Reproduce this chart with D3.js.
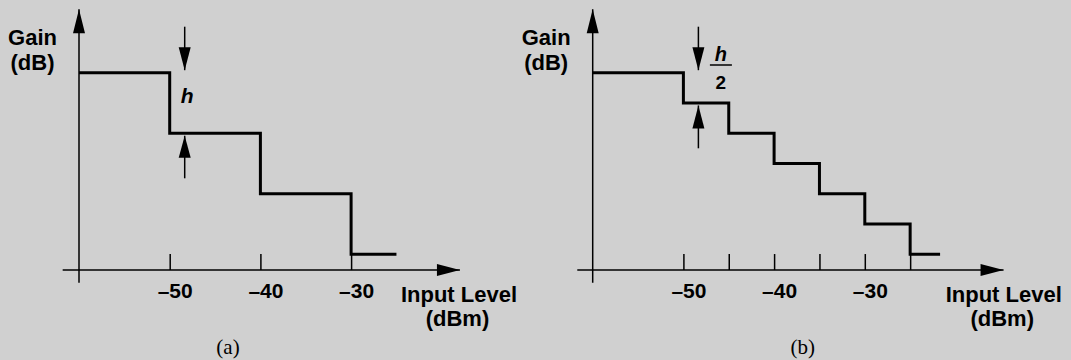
<!DOCTYPE html>
<html>
<head>
<meta charset="utf-8">
<script src="https://cdn.jsdelivr.net/npm/d3@7"></script>
<style>
  html, body { margin: 0; padding: 0; background: #d0d0d0; }
  svg { display: block; }
</style>
</head>
<body>
<svg id="chart" width="1071" height="360"></svg>
<script>
// ---- data ----
// panel (a): step edges (dBm) and gain levels (in units of h)
const edgesA = [-60, -50, -40, -30, -25];
const levelsA = [3, 2, 1, 0];
// panel (b): finer steps of h/2
const edgesB = [-60, -50, -45, -40, -35, -30, -25, -21.7];
const levelsB = [3, 2.5, 2, 1.5, 1, 0.5, 0];
// ticks
const tickValuesA = [-50, -40, -30];
const tickValuesB = [-50, -45, -40, -35, -30, -25];
const tickLabels = [-50, -40, -30];
// axis extents (data units)
const xAxisA = [-61.8, -18.0];
const xAxisB = [-61.7, -14.7];
const yAxisExtent = [-0.47, 4.05];
const xAxisLevel = -0.26;
// texts
const yTitle = ["Gain", "(dB)"];
const xTitle = ["Input Level", "(dBm)"];
const captions = ["(a)", "(b)"];

const svg = d3.select("#chart");
const ink = "#000";
const bold = "'Liberation Sans', Arial, Helvetica, sans-serif";

const y = d3.scaleLinear().domain([0, 3]).range([254.3, 72.7]);

function arrowHead(g, x0, y0, x1, y1, len = 23, w = 12) {
  const dx = x1 - x0, dy = y1 - y0, L = Math.hypot(dx, dy);
  const ux = dx / L, uy = dy / L;
  const bx = x1 - ux * len, by = y1 - uy * len;
  const px = -uy * w / 2, py = ux * w / 2;
  g.append("path")
    .attr("d", `M${x1},${y1}L${bx + px},${by + py}L${bx - px},${by - py}Z`)
    .attr("fill", ink);
}
function arrow(g, x0, y0, x1, y1, len, w) {
  g.append("line").attr("x1", x0).attr("y1", y0).attr("x2", x1).attr("y2", y1)
    .attr("stroke", ink).attr("stroke-width", 1.5);
  arrowHead(g, x0, y0, x1, y1, len, w);
}

function panel(offsetX, edges, levels, tickVals, axisExt, caption, captionX, titleShift) {
  const g = svg.append("g").attr("transform", `translate(${offsetX},0)`);
  const x = d3.scaleLinear().domain([-60, -50]).range([0, 90.7]);

  // ticks + labels via d3 axis
  const axis = d3.axisBottom(x)
    .tickValues(tickVals)
    .tickSize(-16)
    .tickPadding(13)
    .tickFormat(d => tickLabels.includes(d) ? "\u2013" + Math.abs(d) : "");
  const ag = g.append("g").attr("transform", `translate(0,${y(xAxisLevel)})`).call(axis);
  ag.select(".domain").remove();
  ag.selectAll(".tick line").attr("stroke", ink).attr("stroke-width", 1.5);
  ag.selectAll(".tick text").attr("fill", ink)
    .attr("font-family", bold).attr("font-weight", "bold").attr("font-size", 21)
    .attr("dx", 5);

  // axes with arrows
  arrow(g, x(axisExt[0]), y(xAxisLevel), x(axisExt[1]), y(xAxisLevel), 23, 12);
  arrow(g, x(-60), y(yAxisExtent[0]), x(-60), y(yAxisExtent[1]), 24, 12);

  // staircase
  const pts = [];
  levels.forEach((lv, i) => {
    pts.push([x(edges[i]), y(lv)]);
    pts.push([x(edges[i + 1]), y(lv)]);
  });
  g.append("path")
    .attr("d", d3.line()(pts))
    .attr("fill", "none").attr("stroke", ink).attr("stroke-width", 3)
    .attr("stroke-linejoin", "miter");

  // y title
  const yt = g.append("text").attr("font-family", bold).attr("font-weight", "bold")
    .attr("font-size", 22).attr("fill", ink).attr("text-anchor", "middle");
  yt.append("tspan").attr("x", x(-60) - 46.5).attr("y", 45).text(yTitle[0]);
  yt.append("tspan").attr("x", x(-60) - 46.5).attr("y", 70).text(yTitle[1]);

  // x title
  const xt = g.append("text").attr("font-family", bold).attr("font-weight", "bold")
    .attr("font-size", 22).attr("fill", ink).attr("text-anchor", "middle");
  xt.append("tspan").attr("x", 380 + titleShift).attr("y", 301.5).text(xTitle[0]);
  xt.append("tspan").attr("x", 378.5 + titleShift).attr("y", 325.5).text(xTitle[1]);

  // caption
  g.append("text").attr("x", captionX).attr("y", 354)
    .attr("font-family", "'Liberation Serif', 'Times New Roman', serif")
    .attr("font-size", 21).attr("fill", ink).attr("text-anchor", "middle")
    .text(caption);

  return { g, x };
}

// panel (a)
const A = panel(79, edgesA, levelsA, tickValuesA, xAxisA, captions[0], 149, 0);
{
  const ax = A.x(-50) + 15;
  arrow(A.g, ax, 26.7, ax, y(3) - 2.5, 23, 12);
  arrow(A.g, ax, 178.3, ax, y(2) + 2.5, 22, 12);
  A.g.append("text").attr("x", ax + 2.5).attr("y", 102.5)
    .attr("font-family", bold).attr("font-weight", "bold").attr("font-style", "italic")
    .attr("font-size", 21).attr("fill", ink).attr("text-anchor", "middle").text("h");
}

// panel (b)
const B = panel(592.7, edgesB, levelsB, tickValuesB, xAxisB, captions[1], 210, 31);
{
  const bx = B.x(-50) + 15;
  arrow(B.g, bx, 26.7, bx, y(3) - 2.5, 23, 12);
  arrow(B.g, bx, 148.3, bx, y(2.5) + 2.5, 23, 12);
  const cx = bx + 22.5;
  B.g.append("text").attr("x", cx).attr("y", 61)
    .attr("font-family", bold).attr("font-weight", "bold").attr("font-style", "italic")
    .attr("font-size", 20).attr("fill", ink).attr("text-anchor", "middle").text("h");
  B.g.append("line").attr("x1", cx - 11).attr("x2", cx + 11).attr("y1", 65).attr("y2", 65)
    .attr("stroke", ink).attr("stroke-width", 1.5);
  B.g.append("text").attr("x", cx).attr("y", 89.3)
    .attr("font-family", bold).attr("font-weight", "bold")
    .attr("font-size", 19).attr("fill", ink).attr("text-anchor", "middle").text("2");
}
</script>
</body>
</html>
